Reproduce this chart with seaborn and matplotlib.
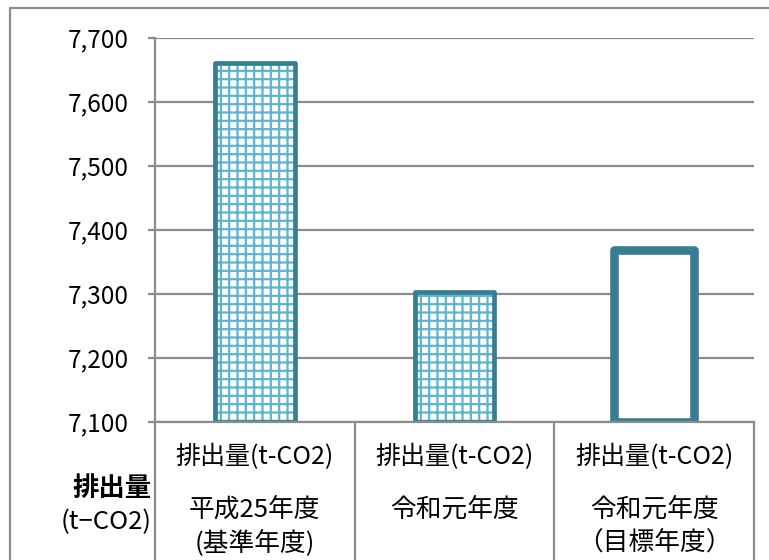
import matplotlib
matplotlib.use("Agg")
import matplotlib.pyplot as plt
import matplotlib.transforms as mtransforms
from matplotlib.lines import Line2D
import seaborn as sns
import pandas as pd

# ---- data ----
row1_labels = ["排出量(t-CO2)", "排出量(t-CO2)", "排出量(t-CO2)"]
row2_labels = ["平成25年度", "令和元年度", "令和元年度"]
row3_labels = ["(基準年度)", "", "（目標年度）"]
categories = ["平成25年度(基準年度)", "令和元年度", "令和元年度(目標年度)"]
values = [7660, 7303, 7368]
yticks = [7100, 7200, 7300, 7400, 7500, 7600, 7700]
ytick_labels = ["7,100", "7,200", "7,300", "7,400", "7,500", "7,600", "7,700"]
base = yticks[0]

sns.set_theme(style="white")
plt.rcParams["font.family"] = ["Noto Sans CJK JP", "DejaVu Sans"]
plt.rcParams["hatch.linewidth"] = 1.6

W, H = 769, 560
fig = plt.figure(figsize=(W / 100, H / 100), dpi=100)
fig.patch.set_facecolor("white")
left, right, top, bottom = 155, 754, 37.7, 421.7
ax = fig.add_axes([left / W, 1 - bottom / H, (right - left) / W, (bottom - top) / H])

df = pd.DataFrame({"cat": categories, "val": values})
teal = "#367f93"
light = "#5cb5cd"
grid = "#8c8c8c"

# pass 1: fills / hatches
sns.barplot(data=df, x="cat", y="val", hue="cat", palette=["white"] * 3,
            legend=False, width=0.4, ax=ax, saturation=1)
for i, p in enumerate(ax.patches):
    p.set_facecolor("white")
    if i < 2:
        p.set_hatch("++")
        p.set_edgecolor(light)
    else:
        p.set_edgecolor("none")
    p.set_linewidth(0)
    p.set_zorder(2)
n_first = len(ax.patches)

# pass 2: outlines
sns.barplot(data=df, x="cat", y="val", hue="cat", palette=[teal] * 3,
            legend=False, width=0.4, ax=ax, fill=False, saturation=1)
for j, p in enumerate(ax.patches[n_first:]):
    p.set_facecolor("none")
    p.set_edgecolor(teal)
    p.set_linewidth(3.4 if j < 2 else 6.2)
    p.set_joinstyle("round")
    p.set_zorder(3)

# bars start at the axis baseline instead of zero
for p in ax.patches:
    h = p.get_height()
    p.set_y(base)
    p.set_height(h - base)

ax.set_ylim(7100, 7700)
ax.set_xlim(-0.5, 2.5)
ax.set_yticks(yticks)
ax.set_yticklabels(ytick_labels, fontsize=17.5, color="black")
ax.yaxis.grid(True, color=grid, linewidth=1.6)
ax.set_axisbelow(True)
ax.tick_params(axis="y", length=5, width=1.6, color=grid, pad=14, left=True)
ax.set_xticks([])
ax.set_xlabel("")
ax.set_ylabel("")
for s in ["top", "right"]:
    ax.spines[s].set_visible(False)
for s in ["left", "bottom"]:
    ax.spines[s].set_color(grid)
    ax.spines[s].set_linewidth(1.6)
    ax.spines[s].set_zorder(4)

# table below the axis
trans = mtransforms.blended_transform_factory(ax.transData, fig.transFigure)
for xv in [-0.5, 0.5, 1.5, 2.5]:
    ax.add_line(Line2D([xv, xv], [0, 1 - bottom / H], transform=trans,
                       color=grid, linewidth=1.6, clip_on=False))

def fy(py):
    return 1 - py / H

for i in range(3):
    ax.text(i, fy(457), row1_labels[i], transform=trans, ha="center", va="center",
            fontsize=18, color="black")
    ax.text(i, fy(510), row2_labels[i], transform=trans, ha="center", va="center",
            fontsize=18.5, color="black")
    if row3_labels[i]:
        ax.text(i, fy(543), row3_labels[i], transform=trans, ha="center", va="center",
                fontsize=18.5, color="black")

fig.text(152 / W, fy(488), "排出量", ha="right", va="center", fontsize=19,
         fontweight="bold", color="black")
fig.text(152 / W, fy(522), "(t−CO2)", ha="right", va="center", fontsize=18.5,
         color="black")

# outer frame
fig.add_artist(Line2D([10 / W, 10 / W], [0, fy(8)], transform=fig.transFigure,
                      color=grid, linewidth=1.6))
fig.add_artist(Line2D([10 / W, 1], [fy(8), fy(8)], transform=fig.transFigure,
                      color=grid, linewidth=1.6))

fig.savefig("out.png", dpi=100)
